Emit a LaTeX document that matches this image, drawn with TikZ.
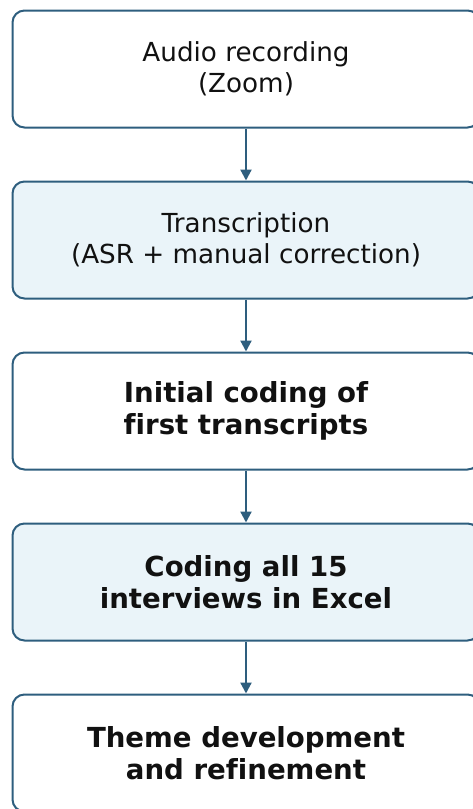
\documentclass[tikz,border=0pt]{standalone}
\usepackage{fontspec}
\setmainfont{DejaVu Sans}[Ligatures=NoCommon]
\usetikzlibrary{arrows.meta}
\definecolor{edgeblue}{HTML}{2E5E7E}
\definecolor{fillblue}{HTML}{EAF4F9}
\definecolor{txt}{HTML}{111111}
\begin{document}
\begin{tikzpicture}[x=1pt,y=1pt,
  stage/.style={draw=edgeblue, line width=2pt, rounded corners=12pt,
    minimum width=467pt, minimum height=117pt, align=center,
    font=\fontsize{26.2}{31.2}\selectfont, text=txt, inner sep=0pt},
  strong/.style={font=\fontsize{27.6}{32}\selectfont\bfseries},
  plain/.style={stage, fill=white},
  shaded/.style={stage, fill=fillblue},
  flow/.style={draw=edgeblue, line width=2.2pt, -{Triangle[width=11pt,length=11pt]}}]
\useasboundingbox (0,0) rectangle (473,-809);
\node[plain]  (a) at (246,-69)  {Audio recording\\(Zoom)};
\node[shaded] (b) at (246,-240) {Transcription\\(ASR + manual correction)};
\node[plain, strong]  (c) at (246,-411) {Initial coding of\\first transcripts};
\node[shaded, strong] (d) at (246,-582) {Coding all 15\\interviews in Excel};
\node[plain, strong]  (e) at (246,-753) {Theme development\\and refinement};
\draw[flow] (a) -- (b);
\draw[flow] (b) -- (c);
\draw[flow] (c) -- (d);
\draw[flow] (d) -- (e);
\end{tikzpicture}
\end{document}
